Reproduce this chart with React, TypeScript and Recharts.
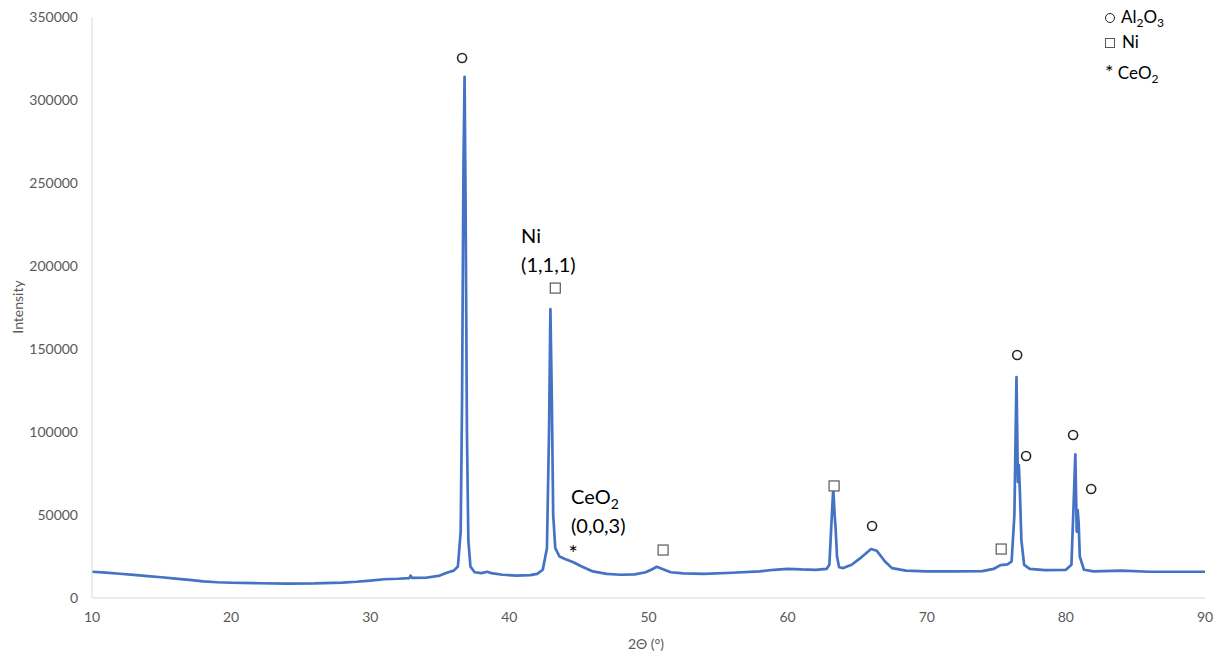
import React from "react";
import {
  LineChart,
  Line,
  XAxis,
  YAxis,
  ReferenceDot,
} from "recharts";

// diffractogram, 2θ in degrees vs. counts
const twoTheta = [
  10, 11, 12, 13, 14, 15, 16, 17, 18, 19, 20, 22, 24, 26, 28, 29, 30, 31, 32,
  32.8, 32.9, 33.0, 34, 35, 35.5, 36.0, 36.3, 36.5, 36.6, 36.7, 36.78, 36.85,
  36.95, 37.05, 37.2, 37.5, 38, 38.4, 38.7, 39.5, 40.5, 41.5, 42.0, 42.4, 42.7,
  42.85, 42.95, 43.05, 43.15, 43.3, 43.6, 44.0, 44.6, 45.2, 46, 47, 48, 49,
  49.8, 50.3, 50.6, 51.0, 51.6, 52.5, 54, 56, 58, 59, 60, 61, 62, 62.8, 63.0,
  63.15, 63.28, 63.38, 63.45, 63.55, 63.7, 64.0, 64.6, 65.3, 66.0, 66.4, 67.0,
  67.5, 68.5, 70, 72, 74, 74.8, 75.3, 75.8, 76.1, 76.3, 76.45, 76.55, 76.62,
  76.7, 76.8, 77.0, 77.4, 78.5, 80, 80.4, 80.55, 80.68, 80.78, 80.85, 80.92,
  81.0, 81.3, 82, 84, 86, 90,
];
const intensity = [
  15800, 15300, 14600, 13900, 13200, 12500, 11700, 10900, 10000, 9500, 9200,
  8900, 8700, 8800, 9300, 9800, 10500, 11300, 11600, 12000, 13500, 12100,
  12200, 13500, 15200, 16500, 19000, 40000, 120000, 260000, 314000, 240000,
  100000, 35000, 19000, 15500, 15000, 15800, 15000, 14000, 13500, 13800, 14500,
  17000, 30000, 100000, 174000, 120000, 50000, 30000, 25000, 23500, 21500,
  19000, 16000, 14500, 14000, 14200, 15500, 17500, 18800, 17500, 15500, 14800,
  14500, 15200, 16000, 17000, 17600, 17200, 17000, 17500, 20000, 45000, 66000,
  50000, 42000, 25000, 18500, 18000, 20000, 24500, 29500, 28500, 22000, 18000,
  16500, 16000, 16000, 16200, 17500, 19800, 20200, 22000, 50000, 133000, 70000,
  80000, 63000, 35000, 20000, 17500, 16800, 17000, 20000, 55000, 86500, 40000,
  53000, 45000, 25000, 17000, 16000, 16500, 15800, 15800,
];

const xTicks = [10, 20, 30, 40, 50, 60, 70, 80, 90];
const yTicks = [0, 50000, 100000, 150000, 200000, 250000, 300000, 350000];

// phase markers above the reflections: o Al2O3, □ Ni, * CeO2
const markerX = [36.6, 43.3, 44.58, 51.05, 63.34, 66.07, 75.35, 76.5, 77.14, 80.52, 81.82];
const markerY = [325300, 186700, 28900, 28900, 67500, 43400, 29500, 146400, 85500, 98200, 65700];
const markerKind = ["o", "s", "*", "s", "s", "o", "s", "o", "o", "o", "o"];

const data = twoTheta.map((t, i) => ({ t, v: intensity[i] }));
const markers = markerX.map((x, i) => ({ x, y: markerY[i], kind: markerKind[i] }));

const FONT = "Lato, 'Noto Sans', sans-serif";
const GREY = "#595959";

function Marker(props: any) {
  const { cx, cy, kind } = props;
  if (kind === "o") {
    return <circle cx={cx} cy={cy} r={4.5} fill="#fff" stroke="#262626" strokeWidth={1.6} />;
  }
  if (kind === "s") {
    return <rect x={cx - 5} y={cy - 5} width={10} height={10} fill="#fff" stroke={GREY} strokeWidth={1.2} />;
  }
  return (
    <text x={cx} y={cy + 11} textAnchor="middle" fontFamily={FONT} fontSize={22} fill="#000">
      *
    </text>
  );
}

// two-line peak label, first line top-left at the reference point
function PeakNote(props: any) {
  const { cx, cy, head, sub, second } = props;
  return (
    <g fontFamily={FONT} fontSize={20} fill="#000">
      <text x={cx} y={cy}>
        {head}
        {sub && (
          <tspan fontSize={14} dy={5}>
            {sub}
          </tspan>
        )}
      </text>
      <text x={cx} y={cy + 29}>
        {second}
      </text>
    </g>
  );
}

const legendRow: React.CSSProperties = {
  position: "absolute",
  left: 1105,
  fontFamily: FONT,
  fontSize: 17,
  color: "#000",
  whiteSpace: "nowrap",
  lineHeight: "20px",
};
const subStyle: React.CSSProperties = { fontSize: 12, verticalAlign: -4 };

export default function App() {
  return (
    <div style={{ position: "fixed", left: 0, top: 0, width: 1221, height: 653, background: "#fff" }}>
      <LineChart
        width={1221}
        height={653}
        data={data}
        margin={{ top: 17, right: 16, bottom: 25, left: 0 }}
      >
        <XAxis
          dataKey="t"
          type="number"
          domain={[10, 90]}
          ticks={xTicks}
          height={30}
          tickLine={false}
          tickSize={0}
          tickMargin={14}
          stroke="#d9d9d9"
          tick={{ fill: GREY, fontSize: 14, fontFamily: FONT }}
        />
        <YAxis
          type="number"
          domain={[0, 350000]}
          ticks={yTicks}
          width={92}
          tickLine={false}
          tickSize={0}
          tickMargin={14}
          stroke="#d9d9d9"
          tick={{ fill: GREY, fontSize: 14, fontFamily: FONT }}
        />
        <Line
          type="linear"
          dataKey="v"
          stroke="#4472C4"
          strokeWidth={2.7}
          strokeLinejoin="round"
          dot={false}
          isAnimationActive={false}
        />
        {markers.map((m, i) => (
          <ReferenceDot
            key={i}
            x={m.x}
            y={m.y}
            ifOverflow="visible"
            shape={(p: any) => <Marker {...p} kind={m.kind} />}
          />
        ))}
        <ReferenceDot
          x={40.84}
          y={214000}
          ifOverflow="visible"
          shape={(p: any) => <PeakNote {...p} head="Ni" second="(1,1,1)" />}
        />
        <ReferenceDot
          x={44.43}
          y={56500}
          ifOverflow="visible"
          shape={(p: any) => <PeakNote {...p} head="CeO" sub="2" second="(0,0,3)" />}
        />
      </LineChart>
      <div
        style={{
          position: "absolute",
          left: 17,
          top: 307,
          transform: "translate(-50%, -50%) rotate(-90deg)",
          fontFamily: FONT,
          fontSize: 14,
          color: GREY,
          whiteSpace: "nowrap",
        }}
      >
        Intensity
      </div>
      <div
        style={{
          position: "absolute",
          left: 646,
          top: 643,
          transform: "translate(-50%, -50%)",
          fontFamily: FONT,
          fontSize: 14,
          color: GREY,
          whiteSpace: "nowrap",
        }}
      >
        2Θ (°)
      </div>
      <div style={{ ...legendRow, top: 7 }}>
        <span style={{ display: "inline-block", width: 8, height: 8, border: "1.5px solid #262626", borderRadius: "50%", marginRight: 6 }} />
        Al<sub style={subStyle}>2</sub>O<sub style={subStyle}>3</sub>
      </div>
      <div style={{ ...legendRow, top: 32 }}>
        <span style={{ display: "inline-block", width: 8, height: 8, border: "1px solid #595959", marginRight: 7 }} />
        Ni
      </div>
      <div style={{ ...legendRow, top: 61 }}>
        <span style={{ fontSize: 20 }}>*</span> CeO<sub style={subStyle}>2</sub>
      </div>
    </div>
  );
}
